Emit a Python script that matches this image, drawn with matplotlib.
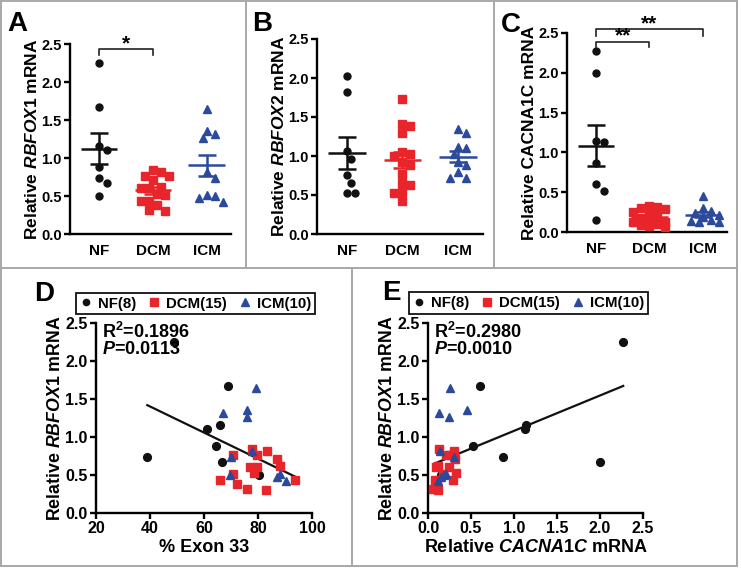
import numpy as np
import matplotlib
matplotlib.use('Agg')
import matplotlib.pyplot as plt
from matplotlib.lines import Line2D
from matplotlib.ticker import FormatStrFormatter

plt.rcParams['font.family'] = ['Liberation Sans', 'DejaVu Sans']
plt.rcParams['font.weight'] = 'bold'
plt.rcParams['axes.labelweight'] = 'bold'
plt.rcParams['mathtext.fontset'] = 'custom'
plt.rcParams['mathtext.rm'] = 'Liberation Sans:bold'
plt.rcParams['mathtext.it'] = 'Liberation Sans:italic:bold'
plt.rcParams['mathtext.bf'] = 'Liberation Sans:bold'

# ---------------- data ----------------
groups = ['NF', 'DCM', 'ICM']
legend_labels = ['NF(8)', 'DCM(15)', 'ICM(10)']

nf_rbfox1 = [2.25, 1.67, 1.16, 1.11, 0.88, 0.74, 0.67, 0.50]
nf_cacna1c = [2.27, 0.60, 1.14, 1.13, 0.52, 0.87, 2.00, 0.15]
nf_exon33 = [49.0, 69.0, 66.0, 61.0, 64.5, 39.0, 66.5, 80.5]
nf_rbfox2 = [2.03, 1.82, 1.06, 0.96, 0.76, 0.66, 0.53, 0.53]

dcm_rbfox1 = [0.84, 0.82, 0.765, 0.765, 0.71, 0.625, 0.61, 0.60, 0.53, 0.51, 0.44, 0.44, 0.385, 0.315, 0.30]
dcm_exon33 = [77.7, 83.3, 70.9, 79.6, 87.0, 88.0, 79.6, 76.9, 78.6, 70.9, 66.0, 93.8, 72.4, 76.1, 82.9]
dcm_cacna1c = [0.13, 0.30, 0.205, 0.25, 0.31, 0.12, 0.24, 0.09, 0.33, 0.175, 0.08, 0.29, 0.10, 0.06, 0.12]
dcm_rbfox2 = [1.73, 1.415, 1.38, 1.30, 1.05, 1.03, 1.00, 0.92, 0.88, 0.77, 0.65, 0.63, 0.54, 0.53, 0.42]

icm_rbfox1 = [1.65, 1.355, 1.31, 1.26, 0.82, 0.74, 0.515, 0.50, 0.47, 0.415]
icm_exon33 = [79.3, 75.9, 67.2, 76.1, 77.7, 69.9, 88.0, 69.7, 87.0, 90.3]
icm_cacna1c = [0.26, 0.45, 0.13, 0.24, 0.14, 0.30, 0.21, 0.19, 0.15, 0.12]
icm_rbfox2 = [1.34, 1.30, 1.12, 1.10, 1.03, 0.92, 0.88, 0.80, 0.72, 0.72]

stats_D = ['R$^2$=0.1896', '$\\mathit{P}$=0.0113']
stats_E = ['R$^2$=0.2980', '$\\mathit{P}$=0.0010']

# ---------------- styles ----------------
colors = ['#111111', '#e8252b', '#2b4a9c']
markers = ['o', 's', '^']
msizes = [5.0, 5.6, 5.8]
W, H = 741, 568
fig = plt.figure(figsize=(W / 100, H / 100), dpi=100)


def add_ax(l, t, r, b):
    return fig.add_axes([l / W, 1 - b / H, (r - l) / W, (b - t) / H])


def style(ax, ls=10.5):
    for s in ['top', 'right']:
        ax.spines[s].set_visible(False)
    for s in ['left', 'bottom']:
        ax.spines[s].set_linewidth(1.7)
    ax.tick_params(width=1.7, length=4, labelsize=ls, pad=2)
    ax.set_ylim(0, 2.5)
    ax.set_yticks([0, 0.5, 1.0, 1.5, 2.0, 2.5])
    ax.yaxis.set_major_formatter(FormatStrFormatter('%.1f'))


def swarm(ax, xc, vals, diam, maxpx):
    vals = np.asarray(vals, float)
    pts = ax.transData.transform(np.column_stack([np.full(len(vals), xc), vals]))
    pxu = ax.transData.transform((1, 0))[0] - ax.transData.transform((0, 0))[0]
    order = np.argsort(-vals, kind='stable')
    placed = []
    offs = np.zeros(len(vals))
    step = diam * 0.5
    cands = [0.0]
    k = 1
    while k * step <= maxpx + 1e-9:
        cands += [k * step, -k * step]
        k += 1
    for i in order:
        y = pts[i, 1]
        best, bestpen = 0.0, None
        for c in cands:
            pen = sum(max(0.0, diam - np.hypot(c - px, y - py)) for px, py in placed)
            if bestpen is None or pen < bestpen - 1e-9:
                best, bestpen = c, pen
            if pen == 0:
                break
        placed.append((best, y))
        offs[i] = best
    return xc + offs / pxu


def dotplot(ax, datasets):
    style(ax)
    ax.set_xlim(-0.54, 2.45)
    ax.set_xticks(range(3))
    ax.set_xticklabels(groups, fontsize=11)
    ax.tick_params(axis='x', length=0, pad=7)
    for i, vals in enumerate(datasets):
        xs = swarm(ax, i, vals, 8.0, 17)
        ax.plot(xs, vals, ls='none', marker=markers[i], ms=msizes[i],
                color=colors[i], mec=colors[i], clip_on=False, zorder=3)
        v = np.asarray(vals)
        m = v.mean()
        se = v.std(ddof=1) / np.sqrt(len(v))
        ax.hlines(m, i - 0.34, i + 0.34, color=colors[i], lw=1.8, zorder=4)
        ax.hlines([m - se, m + se], i - 0.17, i + 0.17, color=colors[i], lw=1.8, zorder=4)
        ax.vlines(i, m - se, m + se, color=colors[i], lw=1.8, zorder=4)


def bracket(ax, x0, x1, ylo, yhi, txt):
    ax.plot([x0, x0, x1, x1], [ylo, yhi, yhi, ylo], color='#222222', lw=1.2, clip_on=False)
    ax.text((x0 + x1) / 2, yhi - 0.05, txt, ha='center', va='bottom', fontsize=15,
            clip_on=False)


# ---------- A ----------
axA = add_ax(70, 44, 231, 234)
dotplot(axA, [nf_rbfox1, dcm_rbfox1, icm_rbfox1])
axA.set_ylabel('Relative $\\mathit{RBFOX1}$ mRNA', fontsize=12.5, labelpad=0.5)
bracket(axA, 0, 1, 2.36, 2.43, '*')

# ---------- B ----------
axB = add_ax(317, 39, 483, 234)
dotplot(axB, [nf_rbfox2, dcm_rbfox2, icm_rbfox2])
axB.set_ylabel('Relative $\\mathit{RBFOX2}$ mRNA', fontsize=12.5, labelpad=0.5)

# ---------- C ----------
axC = add_ax(567, 33, 727, 232)
dotplot(axC, [nf_cacna1c, dcm_cacna1c, icm_cacna1c])
axC.set_ylabel('Relative CACNA1C mRNA', fontsize=12.5, labelpad=0.5)
bracket(axC, 0, 1, 2.33, 2.39, '**')
bracket(axC, 0, 2, 2.46, 2.55, '**')


# ---------- D / E ----------
def scatter_panel(ax, xsets, ysets, stats):
    style(ax, 11.5)
    handles = []
    for i in range(3):
        ax.plot(xsets[i], ysets[i], ls='none', marker=markers[i], ms=msizes[i] + 0.6,
                color=colors[i], mec=colors[i], clip_on=False, zorder=3)
        handles.append(Line2D([], [], ls='none', marker=markers[i], ms=msizes[i] - 0.5,
                              color=colors[i]))
    xa = np.concatenate([np.asarray(x, float) for x in xsets])
    ya = np.concatenate([np.asarray(y, float) for y in ysets])
    k, b = np.polyfit(xa, ya, 1)
    xl = np.array([xa.min(), xa.max()])
    ax.plot(xl, k * xl + b, color='#111111', lw=1.6, zorder=2)
    ax.text(0.03, 1.005, stats[0], transform=ax.transAxes, fontsize=13, va='top', ha='left')
    ax.text(0.03, 0.905, stats[1], transform=ax.transAxes, fontsize=13, va='top', ha='left')
    ax.set_ylabel('Relative $\\mathit{RBFOX1}$ mRNA', fontsize=12.8, labelpad=0.5)
    return handles


axD = add_ax(96, 323, 312, 513)
hD = scatter_panel(axD, [nf_exon33, dcm_exon33, icm_exon33],
                   [nf_rbfox1, dcm_rbfox1, icm_rbfox1], stats_D)
axD.set_xlim(20, 100)
axD.set_xticks([20, 40, 60, 80, 100])
axD.set_xlabel('% Exon 33', fontsize=13, labelpad=2)
axD.legend(hD, legend_labels, loc='lower left', bbox_to_anchor=(-0.093, 1.045),
           ncol=3, frameon=True, fancybox=False, edgecolor='#111111', framealpha=1,
           fontsize=10.8, handlelength=0.8, handletextpad=0.4, columnspacing=0.8,
           borderpad=0.25, borderaxespad=0).get_frame().set_linewidth(1.3)

axE = add_ax(428, 323, 643, 513)
hE = scatter_panel(axE, [nf_cacna1c, dcm_cacna1c, icm_cacna1c],
                   [nf_rbfox1, dcm_rbfox1, icm_rbfox1], stats_E)
axE.set_xlim(0, 2.5)
axE.set_xticks([0, 0.5, 1.0, 1.5, 2.0, 2.5])
axE.xaxis.set_major_formatter(FormatStrFormatter('%.1f'))
axE.set_xlabel('Relative $\\mathit{CACNA1C}$ mRNA', fontsize=13, labelpad=2)
axE.legend(hE, legend_labels, loc='lower left', bbox_to_anchor=(-0.088, 1.05),
           ncol=3, frameon=True, fancybox=False, edgecolor='#111111', framealpha=1,
           fontsize=10.8, handlelength=0.8, handletextpad=0.4, columnspacing=0.8,
           borderpad=0.25, borderaxespad=0).get_frame().set_linewidth(1.3)

# ---------- panel letters ----------
for txt, x, y in [('A', 7, 11), ('B', 252, 11), ('C', 501, 12), ('D', 34, 281), ('E', 382, 280)]:
    fig.text(x / W, 1 - y / H, txt, fontsize=20, fontweight='bold', ha='left', va='top')

# ---------- panel borders ----------
bc = '#a8a8a8'
segs = [((1, 1), (737, 1)), ((1, 566), (737, 566)), ((1, 1), (1, 566)), ((737, 1), (737, 566)),
        ((1, 268), (737, 268)), ((246, 1), (246, 268)), ((494, 1), (494, 268)),
        ((352, 268), (352, 566))]
for (x0, y0), (x1, y1) in segs:
    fig.add_artist(Line2D([x0 / W, x1 / W], [1 - y0 / H, 1 - y1 / H], color=bc, lw=1.4,
                          transform=fig.transFigure))

fig.savefig('out.png', dpi=100)
